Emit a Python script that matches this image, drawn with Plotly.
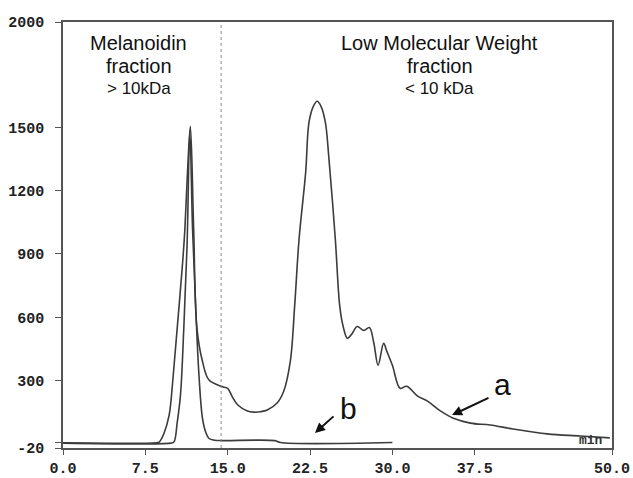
import plotly.graph_objects as go

# Chromatogram a (whole sample)
time_a = [0, 8.5, 8.76, 9.2, 9.67, 10.0, 10.4, 10.9, 11.1, 11.35, 11.6, 11.9, 12.2, 12.7, 13.3,
          14.4, 14.7, 15.0, 15.4, 15.9, 16.8, 17.4, 18.0, 18.6, 19.5, 20.1, 20.7, 21.1, 21.5,
          22.1, 22.4, 22.8, 23.15, 23.5, 23.9, 24.2, 24.8, 25.2, 25.5, 25.9, 26.3, 26.8, 27.4,
          27.9, 28.3, 28.7, 29.2, 29.5, 30.0, 30.7, 31.3, 32.3, 33.2, 34.4, 35.5, 37.1, 38.9,
          41.0, 44.1, 47.1, 49.8]
signal_a = [5, 5, 8, 50, 137, 300, 547, 863, 1018, 1300, 1505, 1018, 547, 391, 302,
            273, 268, 263, 225, 185, 155, 150, 152, 160, 193, 249, 391, 655, 971,
            1287, 1523, 1600, 1624, 1600, 1523, 1364, 971, 655, 560, 500, 520, 556, 537,
            551, 480, 372, 476, 438, 372, 263, 273, 226, 202, 155, 122, 98, 89,
            70, 47, 37, 28]

# Chromatogram b (melanoidin fraction)
time_b = [0, 9.8, 10.1, 10.4, 10.7, 11.0, 11.3, 11.55, 11.8, 12.1, 12.4, 12.7, 13.0, 13.3,
          13.8, 14.5, 19.3, 19.8, 30.0]
signal_b = [3, 3, 8, 100, 232, 547, 940, 1485, 1018, 627, 311, 122, 55, 25,
            17, 15, 15, 6, 6]

x_tickvals = [0, 7.5, 15, 22.5, 30, 37.5, 50]
x_ticktext = ["0.0", "7.5", "15.0", "22.5", "30.0", "37.5", "50.0"]
y_tickvals = [-20, 5, 300, 600, 900, 1200, 1500, 2000]
y_ticktext = ["-20", "", "300", "600", "900", "1200", "1500", "2000"]

cut_time = 14.4

fig = go.Figure()
line_style = dict(color="#3c3c3c", width=1.6)
fig.add_trace(go.Scatter(x=time_b, y=signal_b, mode="lines", line=line_style,
                         name="b", line_shape="spline"))
fig.add_trace(go.Scatter(x=time_a, y=signal_a, mode="lines", line=line_style,
                         name="a", line_shape="spline"))

fig.add_shape(type="line", xref="x", yref="paper", x0=cut_time, x1=cut_time, y0=0, y1=1,
              line=dict(color="#888888", width=1, dash="dot"))

txt = dict(family="Liberation Sans, Arial", color="#111111")
ann = []
def add_text(x, yp, s, size):
    ann.append(dict(x=x, y=yp, xref="x", yref="paper", text=s, showarrow=False,
                    font=dict(size=size, **txt), xanchor="center", yanchor="middle"))

add_text(6.92, 0.951, "Melanoidin", 20)
add_text(6.92, 0.897, "fraction", 20)
add_text(6.92, 0.845, "&gt; 10kDa", 17)
add_text(34.3, 0.951, "Low Molecular Weight", 20)
add_text(34.3, 0.897, "fraction", 20)
add_text(34.3, 0.845, "&lt; 10 kDa", 17)

# labels a / b with arrows
ann.append(dict(x=25.96, y=165, xref="x", yref="y", text="b", showarrow=False,
                font=dict(size=30, **txt)))
ann.append(dict(x=40.07, y=283, xref="x", yref="y", text="a", showarrow=False,
                font=dict(size=30, **txt)))
ann.append(dict(x=22.95, y=51, xref="x", yref="y", text="", showarrow=True,
                ax=20, ay=-18, arrowhead=2, arrowsize=1, arrowwidth=2, arrowcolor="#111111"))
ann.append(dict(x=35.43, y=136, xref="x", yref="y", text="", showarrow=True,
                ax=38, ay=-18, arrowhead=2, arrowsize=1, arrowwidth=2, arrowcolor="#111111"))
ann.append(dict(x=48.1, y=16, xref="x", yref="y", text="<b>min</b>", showarrow=False,
                font=dict(size=13, family="Liberation Mono", color="#333333")))

tickfont = dict(family="Liberation Mono", size=15, color="#222222", weight="bold")

fig.update_layout(
    width=633, height=478,
    margin=dict(l=63, r=21, t=22, b=30, autoexpand=False),
    paper_bgcolor="white", plot_bgcolor="white",
    showlegend=False,
    annotations=ann,
    xaxis=dict(range=[0, 50], tickvals=x_tickvals, ticktext=[f"<b>{t}</b>" for t in x_ticktext],
               showgrid=False, zeroline=False, showline=True, linecolor="#555555",
               linewidth=1.5, mirror=True, ticks="outside", ticklen=5, tickwidth=1.2,
               tickcolor="#555555", tickfont=tickfont, ticklabelstandoff=0, automargin=False),
    yaxis=dict(range=[-20, 2000], tickvals=y_tickvals,
               ticktext=[f"<b>{t}</b>" if t else "" for t in y_ticktext],
               showgrid=False, zeroline=False, showline=True, linecolor="#555555",
               linewidth=1.5, mirror=True, ticks="outside", ticklen=6, tickwidth=1.2,
               tickcolor="#555555", tickfont=tickfont, ticklabelstandoff=8, automargin=False),
)

fig.write_html("out.html", config={"displayModeBar": False},
               post_script="document.body.style.margin='0';document.body.style.overflow='hidden';")
